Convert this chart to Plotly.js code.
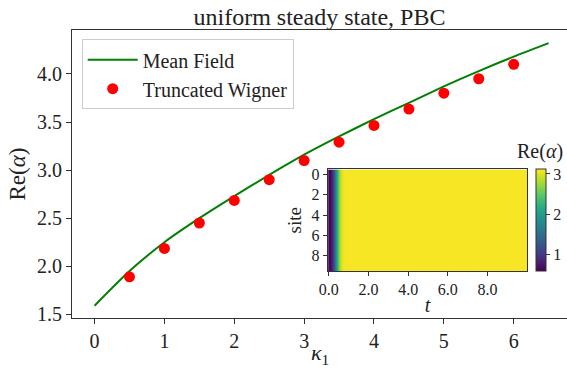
<!DOCTYPE html>
<html>
<head>
<meta charset="utf-8">
<script src="https://cdn.plot.ly/plotly-3.0.1.min.js"></script>
<style>
html,body{margin:0;padding:0;background:#fff;overflow:hidden;}
#chart{width:567px;height:368px;}
</style>
</head>
<body>
<div id="chart"></div>
<script>
// Mean-field curve
const kappaMF = [0, 0.5, 1, 1.5, 2, 2.5, 3, 3.5, 4, 4.5, 5, 5.5, 6, 6.5];
const reMF    = [1.59, 1.95, 2.25, 2.50, 2.73, 2.95, 3.16, 3.35, 3.53, 3.70, 3.87, 4.03, 4.18, 4.32];
// Truncated Wigner points
const kappaTW = [0.5, 1, 1.5, 2, 2.5, 3, 3.5, 4, 4.5, 5, 5.5, 6];
const reTW    = [1.89, 2.185, 2.45, 2.685, 2.90, 3.10, 3.29, 3.465, 3.635, 3.80, 3.95, 4.10];
// Inset: time evolution of Re(alpha) at each site
const sites = [0, 1, 2, 3, 4, 5, 6, 7, 8, 9];
const times = [0, 0.05, 0.1, 0.15, 0.2, 0.25, 0.3, 0.35, 0.4, 0.45, 0.5, 0.55, 0.6, 0.65, 0.7, 0.8, 1, 2, 3, 4, 5, 6, 7, 8, 9, 10];
const profile = [0.60, 0.62, 0.68, 0.78, 0.92, 1.12, 1.38, 1.68, 1.98, 2.26, 2.50, 2.72, 2.88, 2.98, 3.04, 3.08, 3.09, 3.095, 3.09, 3.095, 3.09, 3.095, 3.09, 3.095, 3.09, 3.095];
const inTicksX = [0, 2, 4, 6, 8];
const inTicksY = [0, 2, 4, 6, 8];
const cbTicks = [1, 2, 3];

const zMatrix = sites.map(() => profile.slice());

const FONT = 'Liberation Serif, Times New Roman, serif';
const AX = '#333333';

const traces = [
  {x: kappaMF, y: reMF, type: 'scatter', mode: 'lines', name: 'Mean Field',
   line: {color: '#008000', width: 2, shape: 'spline', smoothing: 0.6}, xaxis: 'x', yaxis: 'y'},
  {x: kappaTW, y: reTW, type: 'scatter', mode: 'markers', name: 'Truncated Wigner',
   marker: {color: '#ff0000', size: 11}, xaxis: 'x', yaxis: 'y'},
  {x: times, y: sites, z: zMatrix, type: 'heatmap', colorscale: 'Viridis',
   zmin: 0.6, zmax: 3.12, showlegend: false, xaxis: 'x2', yaxis: 'y2', zsmooth: false,
   colorbar: {x: 0.9374, xanchor: 'left', xref: 'paper', y: 0.163, yanchor: 'bottom', yref: 'paper',
     len: 0.353, lenmode: 'fraction', thickness: 10, xpad: 0, ypad: 0,
     outlinewidth: 1, outlinecolor: AX, tickvals: cbTicks, ticks: 'outside', ticklen: 4,
     tickcolor: AX, tickfont: {family: FONT, size: 16, color: '#222'}}}
];

const layout = {
  width: 567, height: 368,
  margin: {l: 72, r: 0, t: 30, b: 50},
  paper_bgcolor: '#fff', plot_bgcolor: 'rgba(0,0,0,0)',
  font: {family: FONT, color: '#222'},
  title: {text: 'uniform steady state, PBC', x: 0.5, xref: 'paper', xanchor: 'center',
          y: 0.955, yref: 'container', yanchor: 'middle', font: {family: FONT, size: 24, color: '#222'}},
  showlegend: true,
  legend: {x: 0.0196, y: 0.968, xanchor: 'left', yanchor: 'top', bgcolor: '#fff', itemwidth: 50,
           bordercolor: '#cccccc', borderwidth: 1, font: {family: FONT, size: 20, color: '#222'}},
  xaxis: {range: [-0.323, 6.763], tickvals: [0, 1, 2, 3, 4, 5, 6], showgrid: false, zeroline: false,
          showline: true, linecolor: AX, linewidth: 1, mirror: true, ticks: 'outside', ticklen: 5,
          tickcolor: AX, tickfont: {family: FONT, size: 20, color: '#222'}},
  yaxis: {range: [1.462, 4.457], tickvals: [1.5, 2.0, 2.5, 3.0, 3.5, 4.0], tickformat: '.1f',
          showgrid: false, zeroline: false, showline: true, linecolor: AX, linewidth: 1, mirror: false,
          ticks: 'outside', ticklen: 5, tickcolor: AX, tickfont: {family: FONT, size: 20, color: '#222'},
          title: {text: 'Re(<i>α</i>)', standoff: 4, font: {family: FONT, size: 23, color: '#222'}}},
  xaxis2: {domain: [0.5166, 0.9198], anchor: 'y2', range: [-0.05, 10.0], tickvals: inTicksX, tickformat: '.1f',
           showgrid: false, zeroline: false, showline: true, linecolor: AX, linewidth: 1, mirror: true,
           ticks: 'outside', ticklen: 4, tickcolor: AX, tickfont: {family: FONT, size: 16, color: '#222'},
           title: {text: '<i>t</i>', standoff: 0, font: {family: FONT, size: 20, color: '#222'}}},
  yaxis2: {domain: [0.163, 0.516], anchor: 'x2', range: [9.5, -0.5], tickvals: inTicksY,
           showgrid: false, zeroline: false, showline: true, linecolor: AX, linewidth: 1, mirror: true,
           ticks: 'outside', ticklen: 4, tickcolor: AX, tickfont: {family: FONT, size: 16, color: '#222'},
           title: {text: 'site', standoff: 4, font: {family: FONT, size: 19, color: '#222'}}},
  annotations: [
    {text: 'Re(<i>α</i>)', xref: 'paper', yref: 'paper', x: 0.9455, y: 0.53, xanchor: 'center', yanchor: 'bottom',
     showarrow: false, font: {family: FONT, size: 20, color: '#222'}},
    {text: '<i>κ</i><sub>1</sub>', xref: 'paper', yref: 'paper', x: 0.50, y: -0.125, xanchor: 'center', yanchor: 'middle',
     showarrow: false, font: {family: FONT, size: 22, color: '#222'}}
  ]
};

Plotly.newPlot('chart', traces, layout, {displayModeBar: false, staticPlot: true});
</script>
</body>
</html>
